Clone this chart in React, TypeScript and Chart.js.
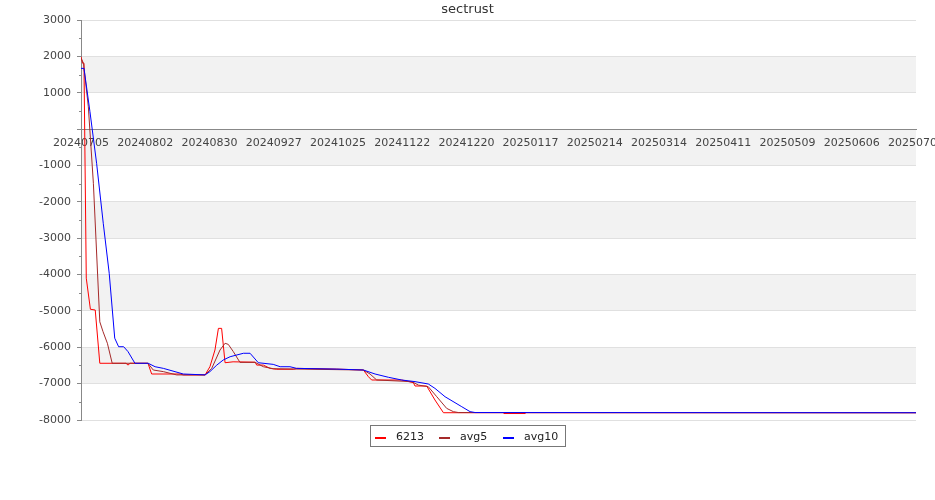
import React, { useEffect, useRef } from 'react';
import { Chart, registerables } from 'chart.js';

Chart.register(...registerables);

const chartTitle = 'sectrust';

const xTickLabels = [
  '20240705', '20240802', '20240830', '20240927', '20241025', '20241122', '20241220',
  '20250117', '20250214', '20250314', '20250411', '20250509', '20250606', '20250704',
];

// days since 20240705
const redDays = [0, 0.7, 1.3, 2.3, 4.1, 6.2, 8.2, 19.6, 20.5, 21.4, 29.2, 30.8, 43.2, 44.6, 54.1, 56.2, 58.4, 59.9, 61.3, 62.8, 66.3, 75.9, 76.6, 79.5, 82.4, 85.3, 92.6, 94.1, 111.2, 123.1, 125.3, 126.7, 139.8, 144.9, 145.6, 150.7, 154.3, 158.0, 184.0, 184.4, 193.6, 194.0, 364];
const redValues = [1990, 1810, 1810, -4100, -4955, -4975, -6440, -6440, -6490, -6440, -6440, -6735, -6735, -6760, -6760, -6535, -6075, -5480, -5480, -6425, -6400, -6410, -6490, -6490, -6580, -6605, -6605, -6580, -6600, -6625, -6810, -6900, -6900, -6975, -7065, -7065, -7450, -7800, -7800, -7822, -7822, -7800, -7800];

const avg5Days = [0, 1.1, 3.2, 5.4, 8.2, 9.6, 11.5, 13.6, 29.2, 29.8, 31.5, 35.9, 41.7, 54.1, 57.0, 60.6, 62.8, 64.2, 66.4, 69.3, 75.9, 79.5, 83.8, 123.1, 126.0, 128.9, 144.2, 147.1, 151.4, 155.1, 159.4, 162.3, 164.5, 364];
const avg5Values = [1950, 1810, 615, -1490, -5300, -5570, -5890, -6440, -6440, -6490, -6625, -6670, -6760, -6760, -6580, -6075, -5890, -5920, -6120, -6415, -6415, -6535, -6590, -6625, -6735, -6900, -6945, -7040, -7085, -7360, -7680, -7770, -7795, -7800];

const avg10Days = [0, 1.3, 3.9, 6.8, 9.7, 12.3, 14.7, 16.4, 18.6, 20.5, 23.5, 29.3, 32.3, 35.9, 44.6, 54.1, 56.2, 59.2, 62.0, 65.0, 70.8, 73.7, 77.3, 83.8, 86.8, 91.1, 94.0, 111.5, 123.1, 128.2, 134.0, 139.8, 145.6, 151.4, 154.3, 158.7, 166.0, 169.6, 171.8, 364];
const avg10Values = [1670, 1670, 480, -940, -2590, -3965, -5750, -5985, -5985, -6120, -6440, -6440, -6535, -6580, -6735, -6760, -6670, -6490, -6350, -6260, -6165, -6165, -6425, -6470, -6535, -6535, -6580, -6600, -6625, -6735, -6825, -6900, -6945, -7010, -7130, -7360, -7635, -7770, -7795, -7800];

const seriesNames = ['6213', 'avg5', 'avg10'];
const seriesColors = ['#ff0000', '#a52a2a', '#0000ff'];

const bandRanges = [[1000, 2000], [-1000, 0], [-3000, -2000], [-5000, -4000], [-7000, -6000]];

const FONT = "'DejaVu Sans', sans-serif";

const toPoints = (days: number[], vals: number[]) => days.map((d, i) => ({ x: d, y: vals[i] }));

const decorPlugin = {
  id: 'decor',
  beforeDraw(chart: any) {
    const { ctx, chartArea, scales } = chart;
    const y = scales.y;
    ctx.save();
    ctx.fillStyle = '#ffffff';
    ctx.fillRect(0, 0, chart.width, chart.height);
    ctx.fillStyle = '#f2f2f2';
    bandRanges.forEach(([a, b]) => {
      const y1 = y.getPixelForValue(b);
      const y2 = y.getPixelForValue(a);
      ctx.fillRect(chartArea.left, y1, chartArea.right - chartArea.left, y2 - y1);
    });
    ctx.restore();
  },
  afterDraw(chart: any) {
    const { ctx, chartArea, scales } = chart;
    const y = scales.y;
    ctx.save();
    // minor ticks
    ctx.strokeStyle = '#888';
    ctx.lineWidth = 1;
    for (let v = -7500; v <= 2500; v += 1000) {
      const py = Math.round(y.getPixelForValue(v)) + 0.5;
      ctx.beginPath();
      ctx.moveTo(chartArea.left - 2, py);
      ctx.lineTo(chartArea.left, py);
      ctx.stroke();
    }
    // title
    ctx.fillStyle = '#333';
    ctx.font = `13px ${FONT}`;
    ctx.textAlign = 'center';
    ctx.textBaseline = 'middle';
    ctx.fillText(chartTitle, chart.width / 2, 10);
    // legend
    ctx.strokeStyle = '#777';
    ctx.strokeRect(370.5, 425.5, 195, 21);
    const xs = [375, 439, 503];
    ctx.font = `11px ${FONT}`;
    ctx.textAlign = 'left';
    seriesNames.forEach((n, i) => {
      ctx.fillStyle = seriesColors[i];
      ctx.fillRect(xs[i], 437, 11, 2);
      ctx.fillStyle = '#222';
      ctx.fillText(n, xs[i] + 21, 437);
    });
    ctx.restore();
  },
};

export default function App() {
  const ref = useRef<HTMLCanvasElement>(null);
  useEffect(() => {
    const chart = new Chart(ref.current as HTMLCanvasElement, {
      type: 'line',
      data: {
        datasets: [
          { label: seriesNames[0], data: toPoints(redDays, redValues), borderColor: seriesColors[0], order: 3 },
          { label: seriesNames[1], data: toPoints(avg5Days, avg5Values), borderColor: seriesColors[1], order: 2 },
          { label: seriesNames[2], data: toPoints(avg10Days, avg10Values), borderColor: seriesColors[2], order: 1 },
        ].map((d) => ({ ...d, borderWidth: 1, pointRadius: 0, tension: 0, fill: false })) as any,
      },
      options: {
        responsive: false,
        animation: false,
        events: [],
        layout: { padding: { top: 20, right: 19, bottom: 80, left: 0 } },
        plugins: { legend: { display: false }, title: { display: false }, tooltip: { enabled: false } },
        scales: {
          x: {
            type: 'linear',
            position: { y: 0 } as any,
            min: 0,
            max: 364,
            grid: { display: false, drawTicks: false },
            border: { display: true, color: '#888', width: 1 },
            ticks: {
              stepSize: 28,
              autoSkip: false,
              maxRotation: 0,
              padding: 7,
              color: '#444',
              font: { family: FONT, size: 11 },
              callback: (v: any) => xTickLabels[Math.round(Number(v) / 28)] ?? '',
            },
            afterFit: (s: any) => { s.paddingLeft = 0; s.paddingRight = 0; },
          },
          y: {
            type: 'linear',
            min: -8000,
            max: 3000,
            grid: {
              color: (c: any) => (c.tick && c.tick.value === 0 ? '#888' : '#e0e0e0'),
              tickColor: '#888',
              tickLength: 4,
            },
            border: { display: true, color: '#888', width: 1 },
            ticks: {
              stepSize: 1000,
              padding: 6,
              color: '#444',
              font: { family: FONT, size: 11 },
              callback: (v: any) => (Number(v) === 0 ? '' : String(v)),
            },
            afterFit: (s: any) => { s.width = 81; },
          },
        },
      },
      plugins: [decorPlugin],
    });
    return () => chart.destroy();
  }, []);
  return (
    <div style={{ position: 'fixed', left: 0, top: 0, width: 935, height: 500, background: '#fff' }}>
      <canvas ref={ref} width={935} height={500} style={{ display: 'block' }} />
    </div>
  );
}
